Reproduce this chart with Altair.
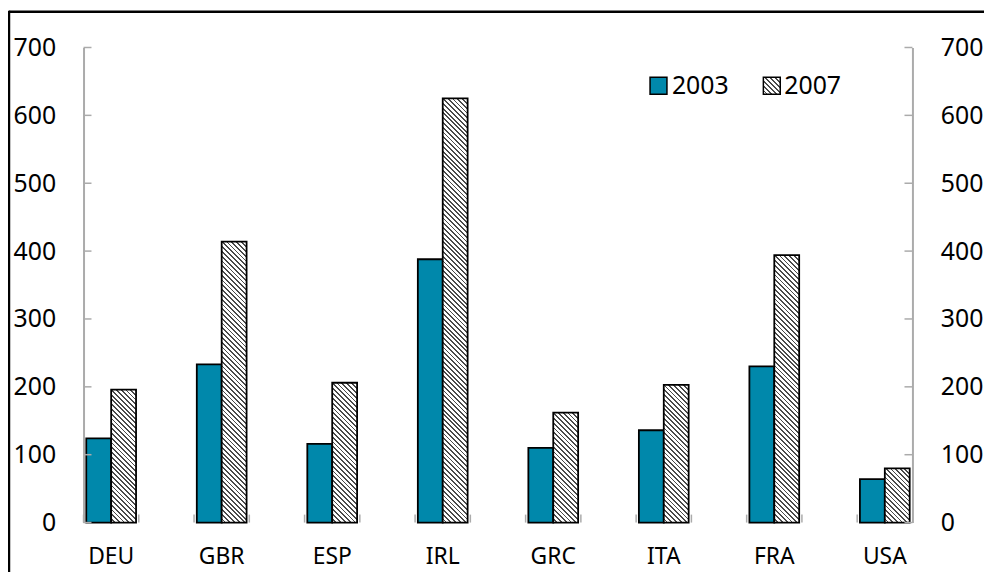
import math
import altair as alt
import pandas as pd

# ---------------- data ----------------
countries = ["DEU", "GBR", "ESP", "IRL", "GRC", "ITA", "FRA", "USA"]
v2003 = [124, 233, 116, 388, 110, 136, 230, 64]
v2007 = [196, 414, 206, 625, 162, 203, 394, 80]
years = ["2003", "2007"]
y_ticks = [0, 100, 200, 300, 400, 500, 600, 700]

# ---------------- layout / style ----------------
W, H = 834, 478
YMAX = 700
PPU = H / YMAX
TEAL = "#0088AB"
GRAY = "#ABABAB"
HATCH = "#4A4A4A"
FONT = "Noto Sans"
FS = 24

# category slots: every country followed by an empty slot (Excel-style gaps)
slots = []
for i, c in enumerate(countries):
    slots.append(c)
    if i < len(countries) - 1:
        slots.append("gap" + str(i))
SLOT_W = W / len(slots)
PAD_OUT = 0.11
BAR_W = SLOT_W / (2 + 2 * PAD_OUT)

rows = []
for c, a, b in zip(countries, v2003, v2007):
    rows.append({"slot": c, "year": "2003", "value": a})
    rows.append({"slot": c, "year": "2007", "value": b})
df = pd.DataFrame(rows)


def hatch(w, h, period=3.4, dark=0.38):
    """45-degree '\\' hatch as a linear gradient in bounding-box units."""
    k = (w + h) / (w * w + h * h)
    n = max(1, int(round((w + h) / (math.sqrt(2) * period))))
    stops = []
    for i in range(n):
        a = i / n
        m = (i + 1 - dark) / n
        b = (i + 1) / n
        stops += [
            alt.GradientStop(offset=a, color="white"),
            alt.GradientStop(offset=m, color="white"),
            alt.GradientStop(offset=m, color=HATCH),
            alt.GradientStop(offset=b, color=HATCH),
        ]
    return alt.LinearGradient(gradient="linear", stops=stops,
                              x1=0, y1=1, x2=w * k, y2=1 - h * k)


xscale = alt.Scale(domain=slots, paddingInner=0, paddingOuter=0)
x_axis = alt.Axis(title=None, ticks=False, labels=False, domainColor=GRAY,
                  domainWidth=2)
yscale = alt.Scale(domain=[0, YMAX], nice=False, zero=True)


def y_axis(orient):
    return alt.Axis(orient=orient, values=y_ticks, ticks=False, grid=False,
                    title=None, domainColor=GRAY, domainWidth=2,
                    labelFont=FONT, labelFontSize=FS + 1, labelColor="black",
                    labelPadding=28)


xoff = alt.XOffset("year:N", scale=alt.Scale(domain=years, paddingInner=0,
                                              paddingOuter=PAD_OUT))

teal = alt.Chart(df).transform_filter(alt.datum.year == "2003").mark_bar(
    fill=TEAL, stroke="black", strokeWidth=1.8
).encode(
    x=alt.X("slot:N", scale=xscale, axis=x_axis),
    xOffset=xoff,
    y=alt.Y("value:Q", scale=yscale, axis=y_axis("left")),
)

hatched = []
for c, v in zip(countries, v2007):
    hatched.append(
        alt.Chart(df).transform_filter(
            (alt.datum.slot == c) & (alt.datum.year == "2007")
        ).mark_bar(fill=hatch(BAR_W, v * PPU), stroke="black", strokeWidth=1.8)
        .encode(
            x=alt.X("slot:N", scale=xscale, axis=None),
            xOffset=xoff,
            y=alt.Y("value:Q", scale=yscale, axis=None),
        )
    )

# category labels (only the real countries, centred on their slot)
cat_df = pd.DataFrame({"slot": countries})
x_labels = alt.Chart(cat_df).mark_text(
    baseline="middle", align="center", font=FONT, fontSize=FS - 1, color="black"
).encode(
    x=alt.X("slot:N", scale=xscale, axis=None),
    y=alt.value(H + 35),
    text="slot:N",
)

tick_df = pd.DataFrame({"v": y_ticks})
left_ticks = alt.Chart(tick_df).mark_rule(color=GRAY, strokeWidth=1.5).encode(
    y=alt.Y("v:Q", scale=yscale, axis=None),
    x=alt.value(0), x2=alt.value(8),
)
right_ticks = alt.Chart(tick_df).mark_rule(color=GRAY, strokeWidth=1.5).encode(
    y=alt.Y("v:Q", scale=yscale, axis=y_axis("right")),
    x=alt.value(W - 8), x2=alt.value(W),
)
slot_df = pd.DataFrame({"slot": slots})
x_ticks = alt.Chart(slot_df).mark_rule(color=GRAY, strokeWidth=1.5).encode(
    x=alt.X("slot:N", scale=xscale, axis=None, bandPosition=0),
    y=alt.value(H), y2=alt.value(H - 8),
)

one = alt.Data(values=[{"k": 1}])
frame_top = alt.Chart(one).mark_rule(color="black", strokeWidth=2.5).encode(
    x=alt.value(-75), x2=alt.value(W + 120), y=alt.value(-36))
frame_left = alt.Chart(one).mark_rule(color="black", strokeWidth=2.5).encode(
    x=alt.value(-75), y=alt.value(-37), y2=alt.value(H + 120))

leg_sq1 = alt.Chart(one).mark_rect(fill=TEAL, stroke="black", strokeWidth=1.5).encode(
    x=alt.value(570), x2=alt.value(587), y=alt.value(30), y2=alt.value(47))
leg_sq2 = alt.Chart(one).mark_rect(fill=hatch(17, 17), stroke="black",
                                   strokeWidth=1.5).encode(
    x=alt.value(684), x2=alt.value(701), y=alt.value(30), y2=alt.value(47))
leg_t1 = alt.Chart(one).mark_text(align="left", baseline="middle", font=FONT,
                                  fontSize=FS + 1, color="black").encode(
    x=alt.value(592), y=alt.value(39), text=alt.value(years[0]))
leg_t2 = alt.Chart(one).mark_text(align="left", baseline="middle", font=FONT,
                                  fontSize=FS + 1, color="black").encode(
    x=alt.value(705), y=alt.value(39), text=alt.value(years[1]))

chart = alt.layer(
    teal, *hatched, x_labels, left_ticks, right_ticks, x_ticks,
    frame_top, frame_left, leg_sq1, leg_sq2, leg_t1, leg_t2,
).resolve_scale(y="independent").properties(
    width=W, height=H,
    autosize=alt.AutoSizeParams(type="none"),
    padding={"left": 76, "top": 38, "right": 72, "bottom": 48},
).configure_view(stroke=None)

chart.save("out.html", embed_options={"renderer": "svg", "actions": False})
